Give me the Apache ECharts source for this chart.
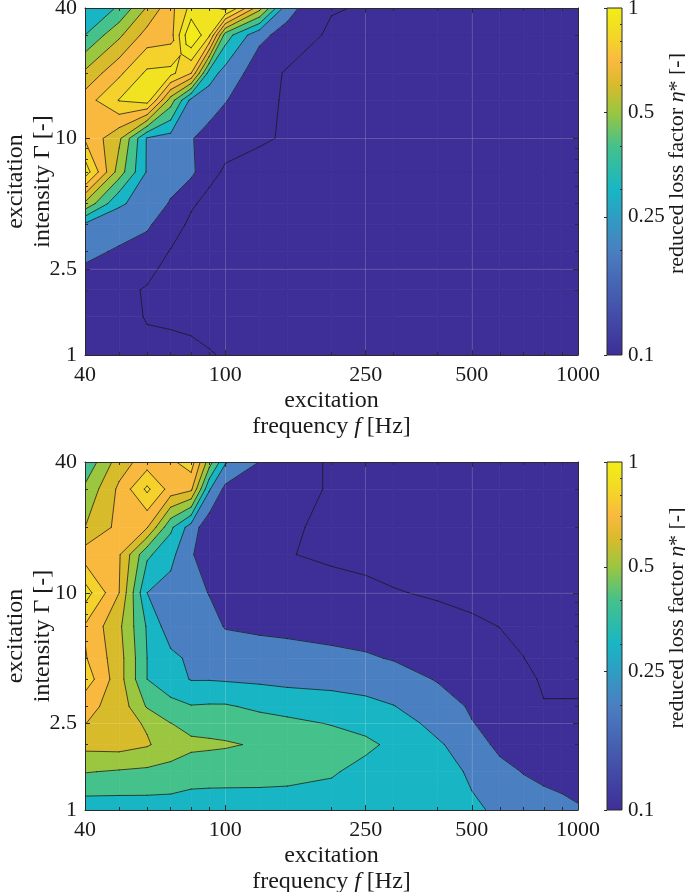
<!DOCTYPE html>
<html><head><meta charset="utf-8">
<script src="https://cdn.jsdelivr.net/npm/echarts@6/dist/echarts.min.js"></script>
<style>html,body{margin:0;padding:0;background:#fff}#c{width:685px;height:892px}</style>
</head><body><div id="c"></div><script>
// grid of excitation frequencies (Hz) and excitation intensities (rows, top to bottom)
const freqs = [40,50,60,70,80,90,100,125,150,200,250,300,400,500,600,700,800,900,1000];
const gammas = [40,30,20,15,10,7,5,4,3,2.5,2,1.5,1];
// reduced loss factor, top chart
const etaTop = [
 [0.33,0.41,0.61,0.77,0.93,0.97,1.04,0.64,0.23,0.108,0.092,0.07,0.06,0.06,0.06,0.06,0.06,0.06,0.06],
 [0.40,0.58,0.74,0.76,1.10,0.92,0.45,0.22,0.17,0.08,0.07,0.06,0.06,0.06,0.06,0.06,0.06,0.06,0.06],
 [0.62,0.78,0.92,0.93,0.80,0.35,0.26,0.15,0.088,0.07,0.06,0.06,0.06,0.06,0.06,0.06,0.06,0.06,0.06],
 [0.75,0.905,0.95,0.55,0.27,0.24,0.205,0.13,0.087,0.065,0.06,0.06,0.06,0.06,0.06,0.06,0.06,0.06,0.06],
 [0.79,0.62,0.29,0.26,0.205,0.17,0.14,0.11,0.092,0.065,0.06,0.06,0.06,0.06,0.06,0.06,0.06,0.06,0.06],
 [0.96,0.55,0.29,0.25,0.22,0.133,0.086,0.07,0.065,0.06,0.06,0.06,0.06,0.06,0.06,0.06,0.06,0.06,0.06],
 [0.58,0.31,0.27,0.19,0.116,0.066,0.06,0.06,0.06,0.06,0.06,0.06,0.06,0.06,0.06,0.06,0.06,0.06,0.06],
 [0.28,0.257,0.21,0.159,0.075,0.065,0.06,0.06,0.06,0.06,0.06,0.06,0.06,0.06,0.06,0.06,0.06,0.06,0.06],
 [0.232,0.184,0.17,0.093,0.07,0.065,0.06,0.06,0.06,0.06,0.06,0.06,0.06,0.06,0.06,0.06,0.06,0.06,0.06],
 [0.185,0.16,0.133,0.06,0.06,0.06,0.06,0.06,0.06,0.06,0.06,0.06,0.06,0.06,0.06,0.06,0.06,0.06,0.06],
 [0.16,0.13,0.09,0.08,0.07,0.065,0.06,0.06,0.06,0.06,0.06,0.06,0.06,0.06,0.06,0.06,0.06,0.06,0.06],
 [0.15,0.13,0.095,0.09,0.085,0.08,0.075,0.07,0.065,0.06,0.06,0.06,0.06,0.06,0.06,0.06,0.06,0.06,0.06],
 [0.14,0.13,0.12,0.12,0.115,0.104,0.095,0.08,0.07,0.06,0.06,0.06,0.06,0.06,0.06,0.06,0.06,0.06,0.06]
];
// reduced loss factor, bottom chart
const etaBottom = [
 [0.42,0.65,0.75,0.78,0.85,0.55,0.31,0.198,0.14,0.09,0.07,0.06,0.06,0.06,0.06,0.06,0.06,0.06,0.06],
 [0.52,0.72,0.92,0.76,0.72,0.31,0.175,0.155,0.14,0.09,0.07,0.06,0.06,0.06,0.06,0.06,0.06,0.06,0.06],
 [0.60,0.73,0.706,0.42,0.25,0.135,0.13,0.12,0.11,0.085,0.07,0.06,0.06,0.06,0.06,0.06,0.06,0.06,0.06],
 [0.75,0.71,0.42,0.33,0.205,0.17,0.15,0.13,0.105,0.08,0.081,0.075,0.07,0.065,0.06,0.06,0.06,0.06,0.06],
 [0.95,0.70,0.30,0.26,0.23,0.197,0.18,0.17,0.16,0.145,0.116,0.104,0.092,0.08,0.075,0.07,0.065,0.06,0.06],
 [0.79,0.62,0.39,0.24,0.245,0.23,0.195,0.185,0.175,0.16,0.14,0.13,0.125,0.113,0.099,0.085,0.075,0.07,0.065],
 [0.81,0.64,0.40,0.326,0.28,0.27,0.25,0.239,0.24,0.227,0.215,0.191,0.15,0.13,0.12,0.101,0.08,0.075,0.07],
 [0.86,0.64,0.40,0.34,0.295,0.295,0.29,0.282,0.274,0.271,0.268,0.26,0.191,0.16,0.13,0.11,0.095,0.09,0.085],
 [0.73,0.66,0.49,0.43,0.405,0.41,0.41,0.38,0.36,0.34,0.32,0.302,0.26,0.185,0.17,0.14,0.102,0.104,0.106],
 [0.702,0.64,0.589,0.502,0.47,0.465,0.457,0.44,0.425,0.395,0.37,0.34,0.275,0.205,0.16,0.15,0.13,0.12,0.118],
 [0.63,0.64,0.61,0.55,0.52,0.515,0.51,0.49,0.47,0.45,0.42,0.38,0.31,0.26,0.17,0.15,0.14,0.135,0.13],
 [0.505,0.49,0.48,0.47,0.45,0.445,0.44,0.435,0.43,0.41,0.37,0.35,0.33,0.29,0.238,0.195,0.17,0.16,0.153],
 [0.34,0.345,0.35,0.35,0.34,0.34,0.345,0.35,0.35,0.35,0.345,0.34,0.33,0.31,0.29,0.27,0.25,0.23,0.21]
];
const levels = [0.1,0.2,0.3,0.4,0.5,0.6,0.7,0.8,0.9,1.0];
const bandColors = ['#3e2e97','#3e2e97','#4a7fc1','#18b6c4','#45c18b','#9bc640','#d8bb2b','#f9b93f','#f5d12c','#f1e31f','#f4ec18'];
const xMajor = [40,100,250,500,1000];
const xMinor = [50,60,70,80,90,200,300,400,600,700,800,900];
const yMajor = [1,2.5,10,40];
const yMinor = [2,3,4,5,6,7,8,9,20,30];
const cMajor = [0.1,0.25,0.5,1];
const cMinor = [0.2,0.3,0.4,0.6,0.7,0.8,0.9];

const FONT = 'Liberation Serif';
const INK = '#1a1a1a';
const FRAME = '#2b2b2b';
const LOG = Math.log10;

function cellsOf(){ const d=[]; for(let j=0;j<gammas.length-1;j++) for(let i=0;i<freqs.length-1;i++) d.push([freqs[i],gammas[j],i,j]); return d; }

function cellPolys(eta,i,j){
  const P=(ii,jj)=>({x:LOG(freqs[ii]),y:LOG(gammas[jj]),v:eta[jj][ii]});
  const a=P(i,j),b=P(i+1,j),c=P(i+1,j+1),d=P(i,j+1);
  let saddle=false;
  for(const L of levels){const sa=a.v>=L,sb=b.v>=L,sc=c.v>=L,sd=d.v>=L; if(sa===sc&&sb===sd&&sa!==sb){saddle=true;break;}}
  if(!saddle) return [[a,b,c,d]];
  const C={x:(a.x+b.x)/2,y:(a.y+d.y)/2,v:(a.v+b.v+c.v+d.v)/4};
  return [[a,b,C],[b,c,C],[c,d,C],[d,a,C]];
}
function clipPoly(poly,L,above){
  const out=[],n=poly.length;
  for(let k=0;k<n;k++){const P=poly[k],Q=poly[(k+1)%n];
    const pin=above?P.v>=L:P.v<L, qin=above?Q.v>=L:Q.v<L;
    if(pin) out.push(P);
    if(pin!==qin){const t=(L-P.v)/(Q.v-P.v); out.push({x:P.x+t*(Q.x-P.x),y:P.y+t*(Q.y-P.y),v:L});}
  }
  return out;
}
function fillRenderer(eta){
  return function(params,api){
    const i=api.value(2), j=api.value(3);
    const toPx=p=>api.coord([Math.pow(10,p.x),Math.pow(10,p.y)]);
    const children=[];
    for(const poly of cellPolys(eta,i,j)){
      const vs=poly.map(p=>p.v), mn=Math.min(...vs), mx=Math.max(...vs);
      for(let b=0;b<=levels.length;b++){
        const lo=b===0?-Infinity:levels[b-1], hi=b===levels.length?Infinity:levels[b];
        if(mx<lo||mn>=hi) continue;
        let q=poly;
        if(lo>-Infinity) q=clipPoly(q,lo,true);
        if(q.length>=3&&hi<Infinity) q=clipPoly(q,hi,false);
        if(q.length<3) continue;
        children.push({type:'polygon',silent:true,shape:{points:q.map(toPx)},style:{fill:bandColors[b],stroke:bandColors[b],lineWidth:0.7}});
      }
    }
    return {type:'group',children};
  };
}
function lineRenderer(eta){
  return function(params,api){
    const i=api.value(2), j=api.value(3);
    const toPx=p=>api.coord([Math.pow(10,p.x),Math.pow(10,p.y)]);
    const children=[];
    for(const poly of cellPolys(eta,i,j)){
      const n=poly.length;
      for(const L of levels){
        const pts=[];
        for(let k=0;k<n;k++){const P=poly[k],Q=poly[(k+1)%n];
          if((P.v>=L)!==(Q.v>=L)){const t=(L-P.v)/(Q.v-P.v); pts.push(toPx({x:P.x+t*(Q.x-P.x),y:P.y+t*(Q.y-P.y)}));}
        }
        for(let k=0;k+1<pts.length;k+=2){
          children.push({type:'line',silent:true,shape:{x1:pts[k][0],y1:pts[k][1],x2:pts[k+1][0],y2:pts[k+1][1]},style:{stroke:'#141414',lineWidth:0.75,lineCap:'round'}});
        }
      }
    }
    return {type:'group',children};
  };
}
const fmt = v => String(Math.round(v*1000)/1000);
const tickStyle = {color:FRAME,width:1};
const textBase = {fontFamily:FONT,color:INK};

function xAxesFor(gi){
  const base={gridIndex:gi,type:'log',logBase:10,min:40,max:1000,z:10};
  return [
    Object.assign({},base,{position:'bottom',
      axisLine:{show:true,onZero:false,lineStyle:{color:FRAME,width:1}},
      axisTick:{show:true,inside:true,length:5,customValues:xMajor,lineStyle:tickStyle},
      axisLabel:Object.assign({show:true,customValues:xMajor,formatter:fmt,margin:9,fontSize:22},textBase),
      splitLine:{show:true,lineStyle:{color:'rgba(255,255,255,0.16)',width:1}},
      name:'excitation\nfrequency {it|f} [Hz]',nameLocation:'middle',nameGap:33,nameMoveOverlap:false,
      nameTextStyle:Object.assign({fontSize:24,lineHeight:26,rich:{it:{fontFamily:FONT,fontStyle:'italic',fontSize:24,lineHeight:26,color:INK}}},textBase)}),
    Object.assign({},base,{position:'bottom',axisLine:{show:false},
      axisTick:{show:true,inside:true,length:3,customValues:xMinor,lineStyle:tickStyle},
      axisLabel:{show:false},splitLine:{show:false}}),
    Object.assign({},base,{position:'top',axisLine:{show:true,onZero:false,lineStyle:{color:FRAME,width:1}},
      axisTick:{show:true,inside:true,length:5,customValues:xMajor,lineStyle:tickStyle},
      axisLabel:{show:false},splitLine:{show:false}}),
    Object.assign({},base,{position:'top',axisLine:{show:false},
      axisTick:{show:true,inside:true,length:3,customValues:xMinor,lineStyle:tickStyle},
      axisLabel:{show:false},splitLine:{show:false}})
  ];
}
function yAxesFor(gi){
  const base={gridIndex:gi,type:'log',logBase:10,min:1,max:40,z:10};
  return [
    Object.assign({},base,{position:'left',
      axisLine:{show:true,onZero:false,lineStyle:{color:FRAME,width:1}},
      axisTick:{show:true,inside:true,length:5,customValues:yMajor,lineStyle:tickStyle},
      axisLabel:Object.assign({show:true,customValues:yMajor,formatter:fmt,margin:8,fontSize:22},textBase),
      splitLine:{show:true,lineStyle:{color:'rgba(255,255,255,0.16)',width:1}},
      name:'excitation\nintensity Γ [-]',nameLocation:'middle',nameRotate:90,nameGap:29,nameMoveOverlap:false,
      nameTextStyle:Object.assign({fontSize:24,lineHeight:27},textBase)}),
    Object.assign({},base,{position:'left',axisLine:{show:false},
      axisTick:{show:true,inside:true,length:3,customValues:yMinor,lineStyle:tickStyle},
      axisLabel:{show:false},splitLine:{show:false}}),
    Object.assign({},base,{position:'right',axisLine:{show:true,onZero:false,lineStyle:{color:FRAME,width:1}},
      axisTick:{show:true,inside:true,length:5,customValues:yMajor,lineStyle:tickStyle},
      axisLabel:{show:false},splitLine:{show:false}}),
    Object.assign({},base,{position:'right',axisLine:{show:false},
      axisTick:{show:true,inside:true,length:3,customValues:yMinor,lineStyle:tickStyle},
      axisLabel:{show:false},splitLine:{show:false}})
  ];
}
function cbAxesFor(gi){
  const base={gridIndex:gi,type:'log',logBase:10,min:0.1,max:1,z:10,position:'right'};
  return [
    Object.assign({},base,{axisLine:{show:false},
      axisTick:{show:true,inside:true,length:3,customValues:cMajor,lineStyle:tickStyle},
      axisLabel:Object.assign({show:true,customValues:cMajor,formatter:fmt,margin:6,fontSize:21},textBase),
      splitLine:{show:false},
      name:'reduced loss factor {it|η}* [-]',nameLocation:'middle',nameRotate:90,nameGap:44,nameMoveOverlap:false,
      nameTextStyle:Object.assign({fontSize:22,lineHeight:22,padding:[0,0,0,36],rich:{it:{fontFamily:FONT,fontStyle:'italic',fontSize:22,lineHeight:22,color:INK}}},textBase)}),
    Object.assign({},base,{axisLine:{show:false},
      axisTick:{show:true,inside:true,length:2,customValues:cMinor,lineStyle:tickStyle},
      axisLabel:{show:false},splitLine:{show:false}})
  ];
}
const cbStops = levels.map((L,k)=>({offset:LOG(L)+1,color:bandColors[k+1]}));
function cbRenderer(params,api){
  const p0=api.coord([api.value(0),api.value(1)]), p1=api.coord([api.value(2),api.value(3)]);
  return {type:'rect',shape:{x:p0[0],y:p1[1],width:p1[0]-p0[0],height:p0[1]-p1[1]},
    style:{fill:{type:'linear',x:0,y:1,x2:0,y2:0,colorStops:cbStops},stroke:FRAME,lineWidth:1}};
}
const cells = cellsOf();
const option = {
  animation:false,
  backgroundColor:'#ffffff',
  grid:[
    {left:85,top:8,width:493,height:347,outerBoundsMode:'none'},
    {left:85,top:462,width:493,height:348,outerBoundsMode:'none'},
    {left:607,top:8,width:15,height:347,outerBoundsMode:'none'},
    {left:607,top:462,width:15,height:348,outerBoundsMode:'none'}
  ],
  xAxis:[...xAxesFor(0),...xAxesFor(1),
    {gridIndex:2,type:'value',min:0,max:1,show:false},
    {gridIndex:3,type:'value',min:0,max:1,show:false}],
  yAxis:[...yAxesFor(0),...yAxesFor(1),...cbAxesFor(2),...cbAxesFor(3)],
  series:[
    {type:'custom',xAxisIndex:0,yAxisIndex:0,z:2,clip:true,silent:true,renderItem:fillRenderer(etaTop),data:cells,encode:{x:0,y:1}},
    {type:'custom',xAxisIndex:0,yAxisIndex:0,z:3,clip:true,silent:true,renderItem:lineRenderer(etaTop),data:cells,encode:{x:0,y:1}},
    {type:'custom',xAxisIndex:4,yAxisIndex:4,z:2,clip:true,silent:true,renderItem:fillRenderer(etaBottom),data:cells,encode:{x:0,y:1}},
    {type:'custom',xAxisIndex:4,yAxisIndex:4,z:3,clip:true,silent:true,renderItem:lineRenderer(etaBottom),data:cells,encode:{x:0,y:1}},
    {type:'custom',xAxisIndex:8,yAxisIndex:8,z:2,silent:true,renderItem:cbRenderer,data:[[0,0.1,1,1]],encode:{x:[0,2],y:[1,3]}},
    {type:'custom',xAxisIndex:9,yAxisIndex:10,z:2,silent:true,renderItem:cbRenderer,data:[[0,0.1,1,1]],encode:{x:[0,2],y:[1,3]}}
  ]
};
const chart = echarts.init(document.getElementById('c'),null,{renderer:'canvas'});
chart.setOption(option);
</script></body></html>
